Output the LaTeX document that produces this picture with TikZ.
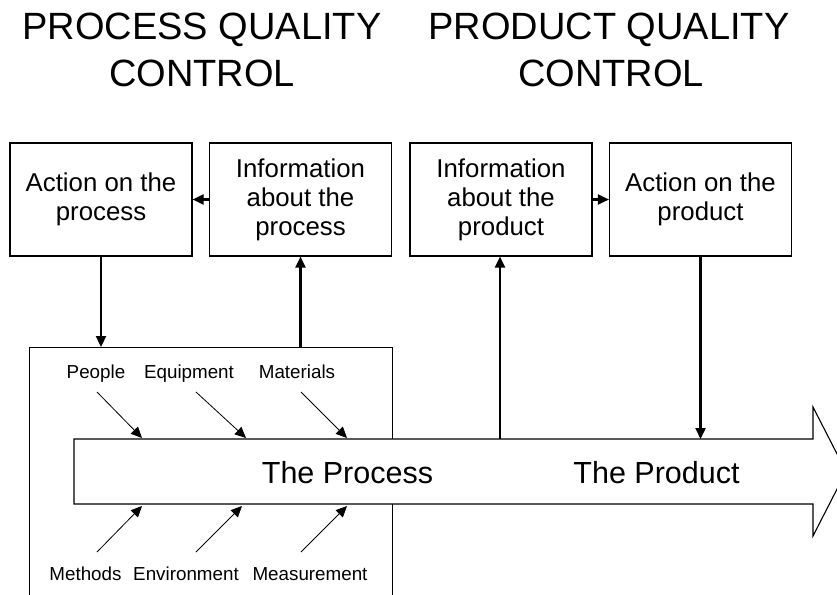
\documentclass[tikz,border=0pt]{standalone}
\usepackage{fontspec}
\setmainfont{Liberation Sans}
\usetikzlibrary{arrows.meta}
\tikzset{
  qbox/.style={draw=black, line width=1.1pt, fill=white, minimum width=182pt, minimum height=113pt, inner sep=2pt, align=center, font=\fontsize{25.8}{29}\selectfont},
  conn/.style={line width=2.3pt, -{Triangle[length=11pt,width=10pt]}},
  feed/.style={line width=0.8pt, -{Triangle[length=11pt,width=10pt]}},
  title/.style={anchor=base, inner sep=0pt, font=\fontsize{38}{46}\selectfont},
  small/.style={anchor=base, inner sep=0pt, font=\fontsize{18.8}{22}\selectfont},
  big/.style={anchor=base, inner sep=0pt, font=\fontsize{30.5}{36}\selectfont},
}
\begin{document}
\begin{tikzpicture}[x=1pt,y=-1pt]
\useasboundingbox (0,0) rectangle (837,594);
\clip (0,0) rectangle (837,594);
% titles
\node[title] (t1a) at (202,40) {PROCESS QUALITY};
\node[title] (t1b) at (202,86) {CONTROL};
\node[title] (t2a) at (609,40) {PRODUCT QUALITY};
\node[title] (t2b) at (611,86) {CONTROL};
% boxes
\node[qbox] (actproc) at (101,199.5) {Action on the\\process};
\node[qbox] (infproc) at (300.5,199.5) {Information\\about the\\process};
\node[qbox] (infprod) at (501,199.5) {Information\\about the\\product};
\node[qbox] (actprod) at (700.5,199.5) {Action on the\\product};
% big rectangle (runs off the bottom)
\node[draw=black, line width=1.1pt, anchor=north west, minimum width=363pt, minimum height=280pt, inner sep=0pt] (env) at (29,347) {};
% process arrow
\draw[line width=1.1pt, fill=white] (74,439) -- (813,439) -- (813,407) -- (846,471.5) -- (813,536) -- (813,504) -- (74,504) -- cycle;
\coordinate (ptopA) at (500,439);
\coordinate (ptopB) at (700.5,439);
\node[big] (procT) at (347.5,483) {The Process};
\node[big] (prodT) at (656.5,483) {The Product};
% connectors
\draw[conn] (infproc.west) -- (actproc.east);
\draw[conn] (infprod.east) -- (actprod.west);
\draw[conn] (actproc.south) -- (actproc.south |- env.north);
\draw[conn] (infproc.south |- env.north) -- (infproc.south);
\draw[conn] (ptopA) -- (ptopA |- infprod.south);
\draw[conn] (actprod.south) -- (ptopB);
% labels
\node[small] (people) at (96,378) {People};
\node[small] (equip) at (189,378) {Equipment};
\node[small] (mater) at (297,378) {Materials};
\node[small] (meth) at (85.5,580) {Methods};
\node[small] (envir) at (186,580) {Environment};
\node[small] (meas) at (310,580) {Measurement};
% feeding arrows
\coordinate (a1s) at (97,392); \coordinate (a1e) at (142,438);
\coordinate (a2s) at (196,392); \coordinate (a2e) at (246,438);
\coordinate (a3s) at (301,392); \coordinate (a3e) at (347,438);
\coordinate (b1s) at (97,552); \coordinate (b1e) at (142,506);
\coordinate (b2s) at (196,552); \coordinate (b2e) at (242,506);
\coordinate (b3s) at (301,552); \coordinate (b3e) at (347,506);
\draw[feed] (a1s) -- (a1e);
\draw[feed] (a2s) -- (a2e);
\draw[feed] (a3s) -- (a3e);
\draw[feed] (b1s) -- (b1e);
\draw[feed] (b2s) -- (b2e);
\draw[feed] (b3s) -- (b3e);
\end{tikzpicture}
\end{document}
